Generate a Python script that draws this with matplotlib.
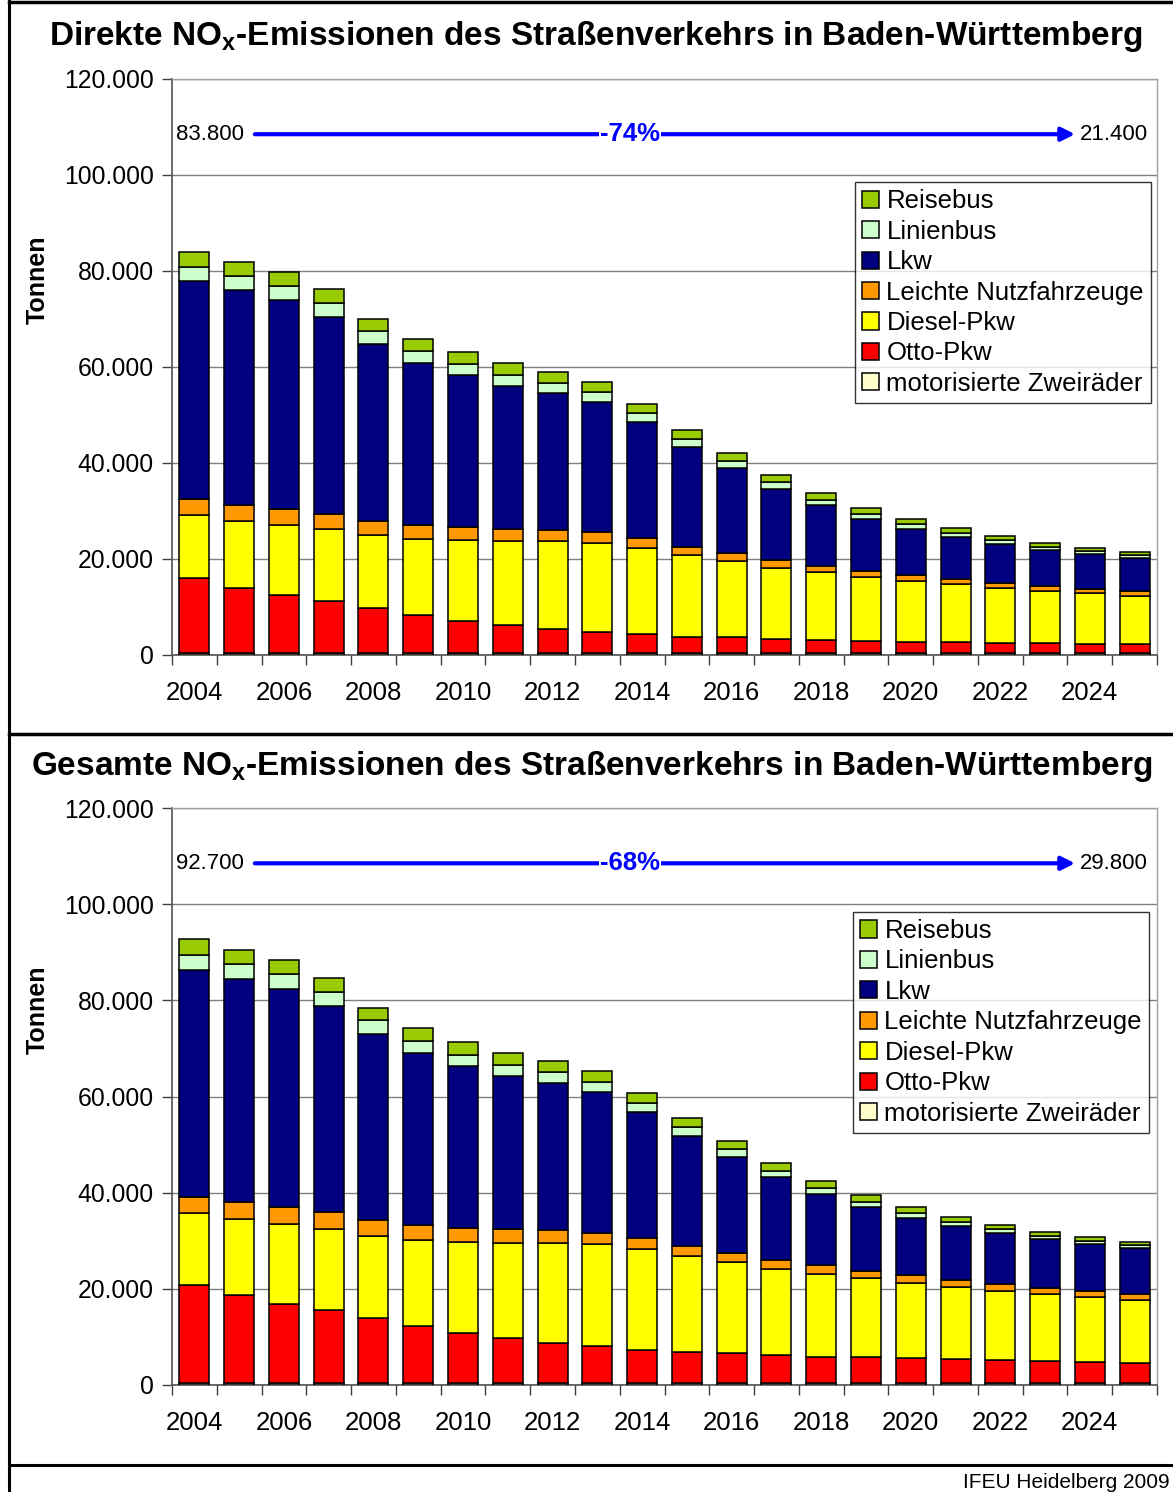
import numpy as np
import matplotlib
matplotlib.use("Agg")
import matplotlib.pyplot as plt
from matplotlib.ticker import FuncFormatter, FixedLocator
from matplotlib.lines import Line2D

plt.rcParams['font.family'] = ['Liberation Sans', 'DejaVu Sans']
plt.rcParams['mathtext.fontset'] = 'custom'
plt.rcParams['mathtext.rm'] = 'Liberation Sans'
plt.rcParams['mathtext.bf'] = 'Liberation Sans:bold'

years = list(range(2004, 2026))
categories = ['motorisierte Zweiräder', 'Otto-Pkw', 'Diesel-Pkw', 'Leichte Nutzfahrzeuge',
              'Lkw', 'Linienbus', 'Reisebus']
colors = ['#FFFFCC', '#FF0000', '#FFFF00', '#FF9900', '#000080', '#CCFFCC', '#99CC00']

# direkte Emissionen (t)
direkt_zweirad = [400, 400, 400, 400, 400, 400, 400, 400, 400, 400, 400,
                  350, 350, 350, 350, 350, 350, 350, 350, 350, 350, 350]
direkt_otto = [15600, 13600, 12000, 10900, 9300, 7900, 6750, 5800, 5100, 4400, 3900,
               3450, 3350, 2950, 2750, 2650, 2450, 2300, 2200, 2050, 2000, 1850]
direkt_diesel = [13200, 14000, 14700, 14900, 15200, 15900, 16750, 17500, 18250, 18600, 18000,
                 17000, 15900, 14900, 14100, 13300, 12600, 12050, 11450, 10900, 10500, 10150]
direkt_lnf = [3200, 3250, 3400, 3200, 3000, 2900, 2700, 2600, 2250, 2200, 2000,
              1800, 1600, 1500, 1400, 1300, 1300, 1100, 1100, 1100, 950, 950]
direkt_lkw = [45450, 44750, 43400, 41100, 36800, 33700, 31700, 29800, 28600, 27100, 24200,
              20800, 17750, 14950, 12600, 10800, 9600, 8850, 8100, 7500, 7200, 7000]
direkt_linien = [3050, 3000, 3000, 2900, 2700, 2600, 2300, 2200, 2100, 2000, 1850,
                 1700, 1450, 1350, 1150, 1050, 900, 750, 750, 650, 650, 500]
direkt_reise = [3000, 2900, 2800, 2800, 2700, 2500, 2500, 2500, 2300, 2100, 1950,
                1800, 1750, 1500, 1400, 1150, 1100, 1050, 850, 850, 700, 650]

# gesamte Emissionen (t)
gesamt_zweirad = [500, 500, 500, 500, 500, 500, 500, 500, 500, 500, 500,
                  500, 500, 500, 500, 500, 500, 500, 500, 500, 500, 500]
gesamt_otto = [20400, 18150, 16400, 15000, 13400, 11700, 10250, 9200, 8300, 7600, 6850,
               6450, 6100, 5750, 5400, 5250, 5050, 4900, 4700, 4550, 4300, 4100]
gesamt_diesel = [14900, 15850, 16600, 17000, 17150, 17950, 18950, 19800, 20800, 21200, 20850,
                 19850, 19000, 17950, 17200, 16450, 15650, 15050, 14350, 13850, 13500, 13150]
gesamt_lnf = [3400, 3500, 3600, 3500, 3250, 3200, 3000, 2950, 2600, 2400, 2400,
              2050, 1900, 1800, 1800, 1600, 1600, 1400, 1400, 1200, 1200, 1150]
gesamt_lkw = [47100, 46450, 45300, 42800, 38700, 35650, 33600, 31800, 30600, 29250, 26200,
              23000, 19900, 17200, 14800, 13150, 12000, 11200, 10600, 10200, 9750, 9550]
gesamt_linien = [3200, 3100, 3000, 3000, 2850, 2600, 2300, 2300, 2200, 2050, 1900,
                 1800, 1600, 1400, 1350, 1150, 1050, 900, 850, 650, 650, 600]
gesamt_reise = [3200, 3000, 2900, 2900, 2650, 2650, 2700, 2450, 2400, 2250, 2100,
                1850, 1800, 1650, 1350, 1350, 1150, 1050, 950, 850, 800, 700]

direkt = [direkt_zweirad, direkt_otto, direkt_diesel, direkt_lnf, direkt_lkw, direkt_linien, direkt_reise]
gesamt = [gesamt_zweirad, gesamt_otto, gesamt_diesel, gesamt_lnf, gesamt_lkw, gesamt_linien, gesamt_reise]


def de_fmt(v, pos=None):
    return f'{int(v):,}'.replace(',', '.')


def draw_panel(ax, layers, start_val, end_val, pct, leg_anchor):
    x = np.arange(len(years))
    bottom = np.zeros(len(years))
    handles = []
    for vals, c, name in zip(layers, colors, categories):
        b = ax.bar(x, vals, 0.67, bottom=bottom, color=c, edgecolor='black',
                   linewidth=1.1, label=name, zorder=3)
        bottom += np.array(vals)
        handles.append(b)

    ax.set_xlim(-0.5, len(years) - 0.5)
    ax.set_ylim(0, 120000)
    ax.set_yticks(np.arange(0, 120001, 20000))
    ax.yaxis.set_major_formatter(FuncFormatter(de_fmt))
    ax.grid(axis='y', color='#808080', linewidth=1.0, zorder=0)

    # ticks at category boundaries, labels every second year
    ax.xaxis.set_major_locator(FixedLocator(np.arange(-0.5, len(years), 1.0)))
    ax.set_xticklabels([])
    ax.set_xticks(x[::2], minor=True)
    ax.set_xticklabels([str(y) for y in years[::2]], minor=True)
    ax.tick_params(axis='x', which='minor', length=0, pad=19, labelsize=18.5)
    ax.tick_params(axis='x', which='major', length=7, width=1, color='#404040', direction='out')
    ax.tick_params(axis='y', length=7, width=1, color='#404040', labelsize=17.8, pad=6)

    for s in ['left', 'bottom']:
        ax.spines[s].set_color('#505050')
        ax.spines[s].set_linewidth(1.2)
    for s in ['top', 'right']:
        ax.spines[s].set_color('#A0A0A0')
        ax.spines[s].set_linewidth(1.0)

    leg = ax.legend(handles[::-1], categories[::-1], loc='upper right',
                    bbox_to_anchor=leg_anchor, borderaxespad=0, fontsize=18.5,
                    handlelength=0.65, handleheight=0.65, handletextpad=0.3,
                    labelspacing=0.25, borderpad=0.28, frameon=True, fancybox=False)
    leg.get_frame().set_edgecolor('black')
    leg.get_frame().set_linewidth(1.0)
    leg.set_zorder(5)

    ya = 108500
    ax.annotate('', xy=(19.67, ya), xytext=(1.35, ya),
                arrowprops=dict(arrowstyle='-|>', color='#0000FF', lw=3,
                                mutation_scale=20, shrinkA=0, shrinkB=0), zorder=4)
    ax.text(9.73, ya, pct, color='#0000FF', fontsize=18.5, fontweight='bold',
            ha='center', va='center', zorder=5,
            bbox=dict(facecolor='white', edgecolor='none', pad=1))
    ax.text(-0.4, ya, de_fmt(start_val), fontsize=16, ha='left', va='center')
    ax.text(19.78, ya, de_fmt(end_val), fontsize=16, ha='left', va='center')


fig = plt.figure(figsize=(11.73, 14.92), dpi=100)
W, H = 1173.0, 1492.0
ax1 = fig.add_axes([172 / W, 1 - 655 / H, 985 / W, 576 / H])
ax2 = fig.add_axes([172 / W, 1 - 1385 / H, 985 / W, 577 / H])

draw_panel(ax1, direkt, 83800, 21400, '-74%', (0.994, 0.821))
draw_panel(ax2, gesamt, 92700, 29800, '-68%', (0.992, 0.820))

fig.text(596 / W, 1 - 36 / H, r'Direkte NO$_\mathbf{x}$-Emissionen des Straßenverkehrs in Baden-Württemberg',
         fontsize=24, fontweight='bold', ha='center', va='center')
fig.text(592 / W, 1 - 767 / H, r'Gesamte NO$_\mathbf{x}$-Emissionen des Straßenverkehrs in Baden-Württemberg',
         fontsize=24, fontweight='bold', ha='center', va='center')
fig.text(38 / W, 1 - 280 / H, 'Tonnen', fontsize=18, fontweight='bold', rotation=90,
         ha='center', va='center')
fig.text(38 / W, 1 - 1010 / H, 'Tonnen', fontsize=18, fontweight='bold', rotation=90,
         ha='center', va='center')
fig.text(1170 / W, 1 - 1482 / H, 'IFEU Heidelberg 2009', fontsize=15, ha='right', va='center')

# outer frame and dividers
fig.add_artist(Line2D([8.5 / W, 8.5 / W], [0, 1], color='black', lw=2.2, transform=fig.transFigure))
fig.add_artist(Line2D([8.5 / W, 1], [1 - 1.5 / H, 1 - 1.5 / H], color='black', lw=2.5, transform=fig.transFigure))
fig.add_artist(Line2D([8.5 / W, 1], [1 - 734 / H, 1 - 734 / H], color='black', lw=2.5, transform=fig.transFigure))
fig.add_artist(Line2D([8.5 / W, 1], [1 - 1465 / H, 1 - 1465 / H], color='black', lw=2.2, transform=fig.transFigure))

fig.savefig('out.png', dpi=100)
